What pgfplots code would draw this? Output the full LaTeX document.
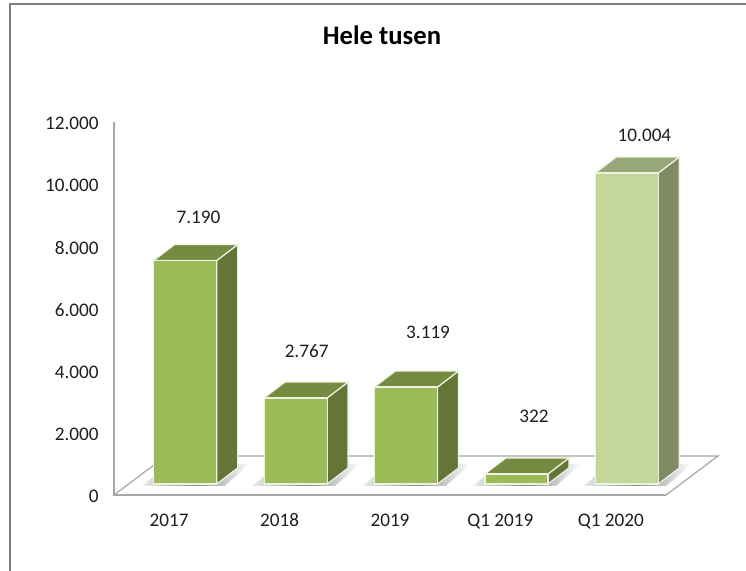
\documentclass[border=0pt]{standalone}
\usepackage{pgfplots}
\pgfplotsset{compat=1.18}
\usepackage{fontspec}
\setmainfont{Carlito}
\definecolor{barF}{HTML}{9BBB59}
\definecolor{barS}{HTML}{647535}
\definecolor{barT}{HTML}{748B41}
\definecolor{hiF}{HTML}{C5D69A}
\definecolor{hiS}{HTML}{7F8B65}
\definecolor{hiT}{HTML}{98A777}
\definecolor{axisg}{HTML}{A6A6A6}
\definecolor{frameg}{HTML}{7F7F7F}
\definecolor{edgeW}{HTML}{EEF2E2}
\definecolor{txt}{HTML}{1E1E1E}
\begin{document}
\begin{tikzpicture}
\path[use as bounding box] (0pt,0pt) rectangle (559.5pt,428.25pt);
\draw[frameg,line width=1.4pt] (7.3pt,0pt) -- (7.3pt,425.3pt) -- (559.5pt,425.3pt);
\node[font=\fontsize{20}{22}\selectfont\bfseries,text=black] at (286.5pt,402pt) {Hele tusen};
% back axis: walls, floor, tick labels
\begin{axis}[
  at={(85.5pt,57pt)},anchor=south west,
  scale only axis,width=414pt,height=279.75pt,
  xmin=0,xmax=5,ymin=0,ymax=12000,
  axis lines*=left,axis line style={-,draw=axisg,line width=1.1pt},
  tick style={draw=none},
  xtick={0.5,1.5,2.5,3.5,4.5},
  xticklabels={2017,2018,2019,Q1 2019,Q1 2020},
  ytick={0,2000,4000,6000,8000,10000,12000},
  scaled y ticks=false,
  /pgf/number format/assume math mode=true,
  /pgf/number format/1000 sep={.},
  tick label style={font=\fontsize{14.4}{16}\selectfont,text=txt},
  yticklabel style={xshift=-8pt,yshift=-0.9pt},
  xticklabel style={yshift=-10.5pt},
  clip=false,
]
\addplot[draw=axisg,line width=0.9pt,fill=white] coordinates {(0,0) (5,0) (5.471,1255) (0.471,1255)} --cycle;
\addplot[draw=axisg,line width=1.1pt] coordinates {(0,0) (5,0)};
\end{axis}
% bars
\begin{axis}[
  at={(97.5pt,65.25pt)},anchor=south west,
  scale only axis,width=414pt,height=279.75pt,
  xmin=0,xmax=5,ymin=0,ymax=12000,
  hide axis,clip=false,
]
% shadows
\addplot[draw=none,left color=gray!15,right color=white,middle color=gray!90] coordinates {(0.106,-64) (0.858,-64) (1.084,643) (0.351,643)} --cycle;
\addplot[draw=none,left color=gray!15,right color=white,middle color=gray!90] coordinates {(1.106,-64) (1.858,-64) (2.084,643) (1.351,643)} --cycle;
\addplot[draw=none,left color=gray!15,right color=white,middle color=gray!90] coordinates {(2.106,-64) (2.858,-64) (3.084,643) (2.351,643)} --cycle;
\addplot[draw=none,left color=gray!15,right color=white,middle color=gray!90] coordinates {(3.106,-64) (3.858,-64) (4.084,643) (3.351,643)} --cycle;
\addplot[draw=none,left color=gray!15,right color=white,middle color=gray!90] coordinates {(4.106,-64) (4.858,-64) (5.084,643) (4.351,643)} --cycle;
% 2017
\addplot[fill=barS,draw=edgeW,line width=0.9pt] coordinates {(0.7853,0) (0.7853,7190) (0.9755,7705) (0.9755,515)} --cycle;
\addplot[fill=barT,draw=edgeW,line width=0.9pt] coordinates {(0.2147,7190) (0.7853,7190) (0.9755,7705) (0.4049,7705)} --cycle;
\addplot[ybar,bar width=47.25pt,bar shift=0pt,fill=barF,draw=edgeW,line width=0.9pt] coordinates {(0.5,7190)};
% 2018
\addplot[fill=barS,draw=edgeW,line width=0.9pt] coordinates {(1.7853,0) (1.7853,2767) (1.9755,3282) (1.9755,515)} --cycle;
\addplot[fill=barT,draw=edgeW,line width=0.9pt] coordinates {(1.2147,2767) (1.7853,2767) (1.9755,3282) (1.4049,3282)} --cycle;
\addplot[ybar,bar width=47.25pt,bar shift=0pt,fill=barF,draw=edgeW,line width=0.9pt] coordinates {(1.5,2767)};
% 2019
\addplot[fill=barS,draw=edgeW,line width=0.9pt] coordinates {(2.7853,0) (2.7853,3119) (2.9755,3634) (2.9755,515)} --cycle;
\addplot[fill=barT,draw=edgeW,line width=0.9pt] coordinates {(2.2147,3119) (2.7853,3119) (2.9755,3634) (2.4049,3634)} --cycle;
\addplot[ybar,bar width=47.25pt,bar shift=0pt,fill=barF,draw=edgeW,line width=0.9pt] coordinates {(2.5,3119)};
% Q1 2019
\addplot[fill=barS,draw=edgeW,line width=0.9pt] coordinates {(3.7853,0) (3.7853,322) (3.9755,837) (3.9755,515)} --cycle;
\addplot[fill=barT,draw=edgeW,line width=0.9pt] coordinates {(3.2147,322) (3.7853,322) (3.9755,837) (3.4049,837)} --cycle;
\addplot[ybar,bar width=47.25pt,bar shift=0pt,fill=barF,draw=edgeW,line width=0.9pt] coordinates {(3.5,322)};
% Q1 2020
\addplot[fill=hiS,draw=edgeW,line width=0.9pt] coordinates {(4.7853,0) (4.7853,10004) (4.9755,10519) (4.9755,515)} --cycle;
\addplot[fill=hiT,draw=edgeW,line width=0.9pt] coordinates {(4.2147,10004) (4.7853,10004) (4.9755,10519) (4.4049,10519)} --cycle;
\addplot[ybar,bar width=47.25pt,bar shift=0pt,fill=hiF,draw=edgeW,line width=0.9pt] coordinates {(4.5,10004)};
% value labels
\tikzset{vl/.style={font=\fontsize{14.4}{16}\selectfont,text=txt}}
\node[vl] at (axis cs:0.62,8571) {7.190};
\node[vl] at (axis cs:1.60,4273) {2.767};
\node[vl] at (axis cs:2.70,4884) {3.119};
\node[vl] at (axis cs:3.66,2188) {322};
\node[vl] at (axis cs:4.66,11230) {10.004};
\end{axis}
\end{tikzpicture}
\end{document}
